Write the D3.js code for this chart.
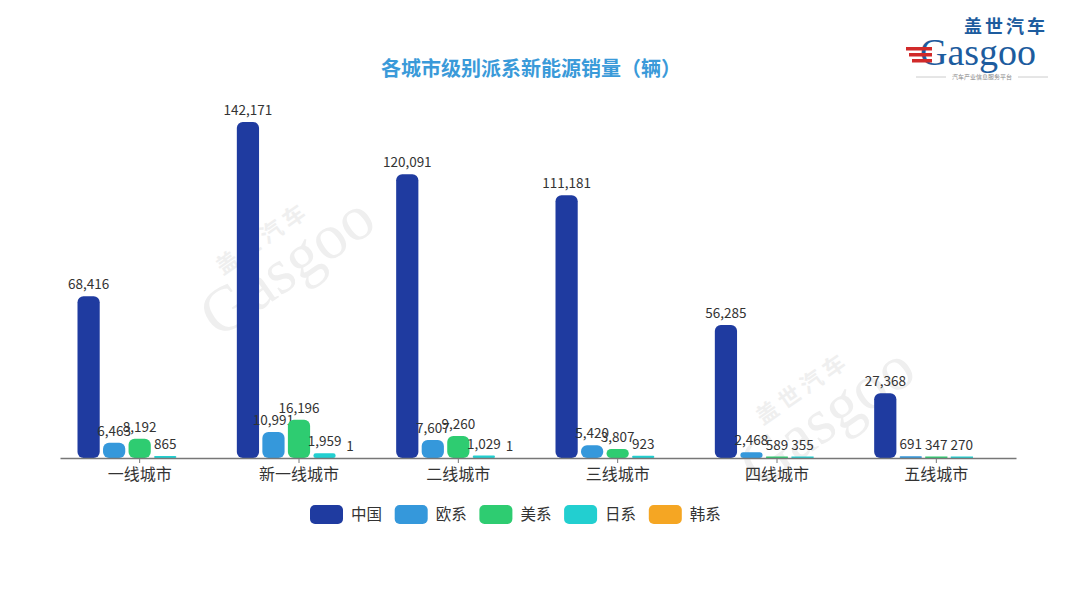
<!DOCTYPE html>
<html><head><meta charset="utf-8">
<script src="https://cdn.jsdelivr.net/npm/d3@7"></script>
<style>body{margin:0;background:#fff;}svg{display:block;font-family:"Noto Sans CJK SC","Noto Sans",sans-serif;}</style>
</head><body>
<svg id="c" width="1080" height="608"></svg>
<script>
const categories = ["一线城市","新一线城市","二线城市","三线城市","四线城市","五线城市"];
const seriesNames = ["中国","欧系","美系","日系","韩系"];
const china = [68416,142171,120091,111181,56285,27368];
const europe = [6463,10991,7607,5420,2468,691];
const america = [8192,16196,9260,3807,589,347];
const japan = [865,1959,1029,923,355,270];
const korea = [null,1,1,null,null,null];
const colors = ["#1f3ba0","#3598db","#2ecc71","#22cfd0","#f5a623"];
const series = [china,europe,america,japan,korea];

const svg = d3.select("#c");
// watermarks
function watermark(x,y){
  const g=svg.append("g").attr("transform",`translate(${x},${y}) rotate(-35)`).attr("fill","#efefef");
  g.append("text").attr("x",0).attr("y",-30).attr("font-size",22).attr("font-weight","bold").text("盖 世 汽 车");
  g.append("text").attr("x",-40).attr("y",20).attr("font-size",64).attr("font-family","Liberation Serif, serif").text("Gasgoo");
}
watermark(240,300);
watermark(780,450);

const x0 = d3.scaleBand().domain(categories).range([60,1016]);
const x1 = d3.scaleBand().domain(seriesNames).range([17.5, x0.bandwidth()-17.5]).paddingInner(0.13);
const y = d3.scaleLinear().domain([0,142171]).range([458,122]);

// bars
seriesNames.forEach((s,si)=>{
  const g=svg.append("g");
  categories.forEach((c,ci)=>{
    const v=series[si][ci];
    if(v==null) return;
    const h=Math.max(y(0)-y(v),0);
    const bx=x0(c)+x1(s), bw=x1.bandwidth();
    if(h>=1){
      g.append("rect").attr("x",bx).attr("y",y(v)).attr("width",bw).attr("height",h)
        .attr("rx",Math.min(6,h/2)).attr("ry",Math.min(6,h/2)).attr("fill",colors[si]);
    } else if (v>1){
      g.append("rect").attr("x",bx).attr("y",y(0)-1.5).attr("width",bw).attr("height",1.5).attr("fill",colors[si]);
    }
    svg.append("text").attr("x",bx+bw/2).attr("y",y(v)-7).attr("text-anchor","middle")
      .attr("font-size",13.5).attr("fill","#333").text(d3.format(",")(v));
  });
});

// axis
const ax = svg.append("g").attr("transform","translate(0,458)")
  .call(d3.axisBottom(x0).tickSize(5).tickSizeOuter(0).tickPadding(6));
ax.select(".domain").attr("stroke","#777").attr("stroke-width",1.5);
ax.selectAll(".tick line").attr("stroke","#777");
ax.selectAll(".tick text").attr("font-size",16).attr("fill","#333").attr("font-family","Noto Sans CJK SC");

// title
svg.append("text").attr("x",531).attr("y",76).attr("text-anchor","middle").attr("font-size",20)
  .attr("font-weight","bold").attr("fill","#3a9ad9").text("各城市级别派系新能源销量（辆）");

// legend
const lg=svg.append("g");
seriesNames.forEach((s,i)=>{
  const lx=310+i*84.7;
  lg.append("rect").attr("x",lx).attr("y",505).attr("width",33).attr("height",19).attr("rx",5).attr("fill",colors[i]);
  lg.append("text").attr("x",lx+41).attr("y",520).attr("font-size",15.5).attr("fill","#333").text(s);
});

// logo
const logo=svg.append("g");
logo.append("text").attr("x",964).attr("y",33).attr("font-size",18).attr("font-weight","bold").attr("fill","#1d5c9e").attr("letter-spacing",3).text("盖世汽车");
logo.append("text").attr("x",920).attr("y",65).attr("font-size",38).attr("font-family","Liberation Serif, serif").attr("fill","#1d5c9e").text("Gasgoo");
[0,1,2].forEach(i=>{
  logo.append("rect").attr("x",906+i*3).attr("y",47+i*6).attr("width",26-i*3).attr("height",3.5).attr("fill","#d12a2a");
});
logo.append("line").attr("x1",916).attr("x2",946).attr("y1",77).attr("y2",77).attr("stroke","#ccc");
logo.append("line").attr("x1",1018).attr("x2",1048).attr("y1",77).attr("y2",77).attr("stroke","#ccc");
logo.append("text").attr("x",982).attr("y",79).attr("text-anchor","middle").attr("font-size",6).attr("fill","#888").text("汽车产业信息服务平台");
</script>
</body></html>
